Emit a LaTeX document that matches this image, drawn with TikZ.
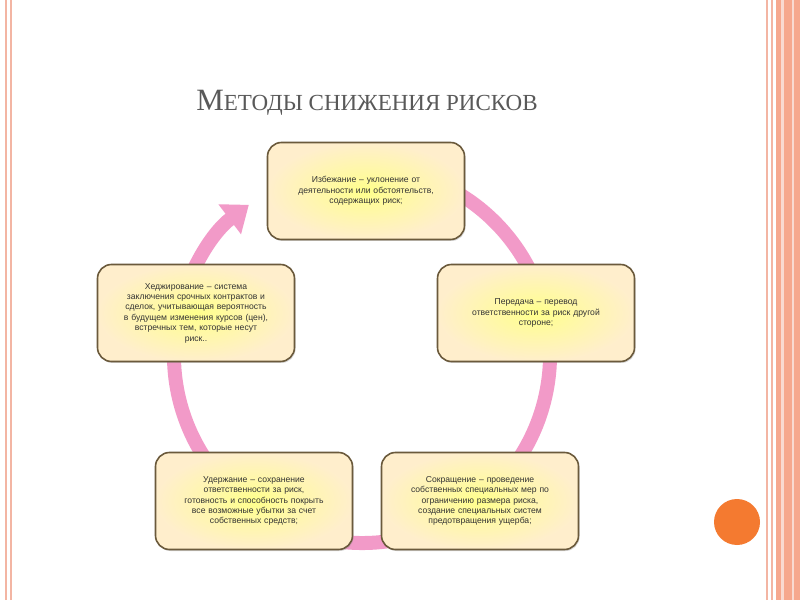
\documentclass[tikz,border=0pt]{standalone}
\usepackage{fontspec}
\setmainfont{Liberation Sans}
\newfontfamily\titlefont{Liberation Serif}
\usetikzlibrary{arrows.meta,shadows}
\definecolor{ringpink}{HTML}{F29AC8}
\definecolor{boxedge}{HTML}{6B5A3C}
\definecolor{frameline}{HTML}{F3B5A3}
\definecolor{framefill}{HTML}{F6A88E}
\definecolor{dotorange}{HTML}{F47A30}
\tikzset{
  mbox/.style={draw=boxedge, line width=1.6pt, rounded corners=14pt,
    inner color=yellow!45!white, outer color=yellow!35!orange!20!white,
    minimum width=197pt, minimum height=97pt, text width=180pt, align=center,
    font=\fontsize{8.6}{10.4}\selectfont, text=black!80,
    drop shadow={shadow xshift=1pt, shadow yshift=-1.5pt, opacity=0.3}},
}
\begin{document}
\begin{tikzpicture}[x=1pt,y=1pt]
\useasboundingbox (0,0) rectangle (800,600);
\fill[white] (0,0) rectangle (800,600);
% frame
\draw[frameline, line width=1.5pt] (6,0) -- (6,600);
\draw[frameline, line width=1.5pt] (11,0) -- (11,600);
\draw[frameline, line width=1.5pt] (767,0) -- (767,600);
\draw[frameline, line width=1.5pt] (772,0) -- (772,600);
\fill[framefill] (776,0) rectangle (800,600);
\fill[frameline!50!white] (781,0) rectangle (784,600);
\fill[frameline!50!white] (792,0) rectangle (794,600);
% title
\node (title) at (367,497) {\titlefont\color{black!65}{\fontsize{31}{31}\selectfont М}{\fontsize{23}{23}\selectfont ЕТОДЫ СНИЖЕНИЯ РИСКОВ}};
% ring
\coordinate (c) at (362,245);
\draw[ringpink, line width=14pt, -{Triangle[width=36pt,length=24pt]}]
  ([shift={(80:188)}]c) arc[start angle=80, end angle=-233, radius=188];
% boxes
\node[mbox] (top) at (366,409) {Избежание – уклонение от\\деятельности или обстоятельств,\\содержащих риск;};
\node[mbox] (right) at (536,287) {Передача – перевод\\ответственности за риск другой\\стороне;};
\node[mbox] (left) at (196,287) {Хеджирование – система\\заключения срочных контрактов и\\сделок, учитывающая вероятность\\в будущем изменения курсов (цен),\\встречных тем, которые несут\\риск..};
\node[mbox] (bl) at (254,99) {Удержание – сохранение\\ответственности за риск,\\готовность и способность покрыть\\все возможные убытки за счет\\собственных средств;};
\node[mbox] (br) at (480,99) {Сокращение – проведение\\собственных специальных мер по\\ограничению размера риска,\\создание специальных систем\\предотвращения ущерба;};
% orange dot
\fill[dotorange] (737,78) circle (23);
\end{tikzpicture}
\end{document}
